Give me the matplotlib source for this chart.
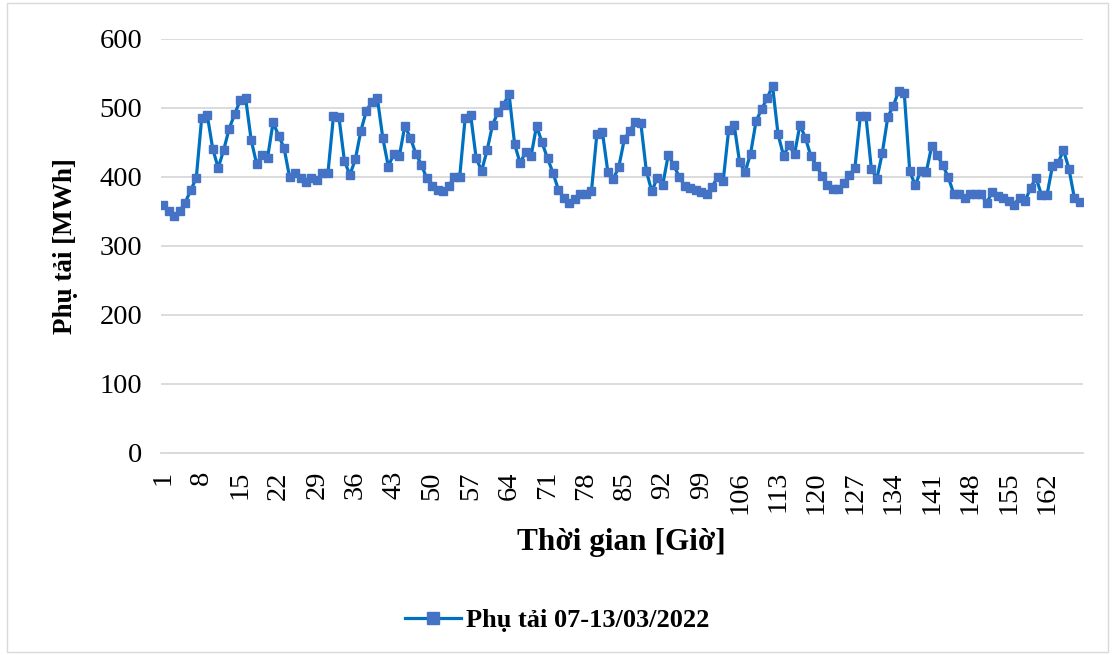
import matplotlib
matplotlib.use("Agg")
import matplotlib.pyplot as plt
from matplotlib.patches import Rectangle

# hourly load, 07-13/03/2022
hours = list(range(1, 169))
load = [
    359, 351, 344, 351, 363, 381, 398, 486, 490, 441,
    413, 439, 470, 491, 511, 514, 454, 419, 432, 428,
    479, 460, 442, 400, 406, 399, 393, 398, 396, 406,
    406, 488, 487, 423, 403, 426, 467, 496, 509, 514,
    456, 415, 434, 430, 474, 457, 434, 418, 398, 387,
    381, 380, 387, 400, 400, 486, 490, 427, 409, 439,
    476, 494, 505, 520, 448, 420, 436, 430, 474, 450,
    427, 406, 381, 370, 363, 368, 375, 376, 379, 463,
    465, 407, 397, 415, 455, 467, 480, 478, 409, 379,
    399, 389, 432, 417, 400, 387, 384, 381, 378, 376,
    386, 400, 394, 468, 476, 421, 407, 434, 481, 498,
    514, 532, 462, 431, 446, 433, 476, 456, 430, 416,
    402, 389, 382, 382, 391, 403, 413, 489, 489, 412,
    397, 435, 487, 503, 525, 521, 408, 388, 409, 407,
    445, 432, 417, 400, 376, 375, 370, 376, 375, 375,
    362, 378, 372, 369, 365, 360, 370, 365, 384, 399,
    374, 374, 416, 420, 439, 412, 369, 364,
]
tick_hours = list(range(1, 169, 7))
y_ticks = [0, 100, 200, 300, 400, 500, 600]
series_name = "Phụ tải 07-13/03/2022"

plt.rcParams["font.family"] = ["Liberation Serif", "DejaVu Serif"]

fig = plt.figure(figsize=(11.15, 6.55), dpi=100)
ax = fig.add_axes([0.144, 0.3084, 0.827, 0.6321])

ax.plot(hours, load, color="#0070C0", lw=2.3, marker="s", ms=6,
        mfc="#4472C4", mec="#4472C4", label=series_name)

ax.set_xlim(0.5, 168.5)
ax.set_ylim(0, 600)
ax.set_yticks(y_ticks)
ax.set_xticks(tick_hours)
ax.set_xticklabels([str(h) for h in tick_hours], rotation=90)
ax.tick_params(axis="both", length=0, labelsize=20.5, pad=13)
ax.grid(axis="y", color="#d9d9d9", lw=1.3)
ax.set_axisbelow(True)
for s in ["top", "right", "left"]:
    ax.spines[s].set_visible(False)
ax.spines["bottom"].set_color("#d9d9d9")
ax.spines["bottom"].set_linewidth(1.3)

ax.set_ylabel("Phụ tải [MWh]", fontsize=19.5, fontweight="bold", labelpad=16)
ax.set_xlabel("Thời gian [Giờ]", fontsize=22.5, fontweight="bold", labelpad=10)

fig.legend(loc="center", bbox_to_anchor=(0.5, 0.053), frameon=False,
           prop={"size": 19, "weight": "bold"}, handlelength=2.1,
           handletextpad=0.2, markerscale=1.4)

fig.patches.append(Rectangle((0.006, 0.005), 0.988, 0.99, transform=fig.transFigure,
                             fill=False, edgecolor="#d9d9d9", lw=1))

fig.savefig("out.png", dpi=100)
